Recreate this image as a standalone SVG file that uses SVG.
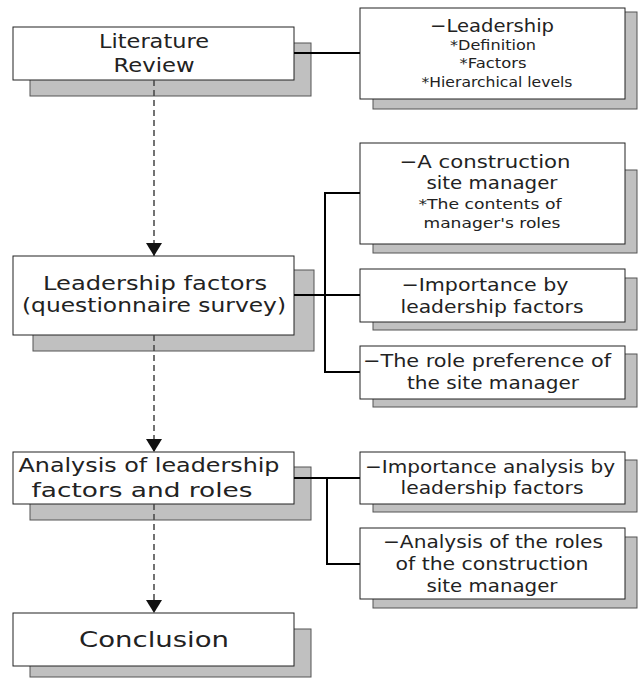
<svg xmlns="http://www.w3.org/2000/svg" width="638" height="679" viewBox="0 0 638 679">
<style>
.sh{fill:#c0c0c0;stroke:#555;stroke-width:1}
.bx{fill:#fff;stroke:#222;stroke-width:1}
text{font-family:"DejaVu Sans","Liberation Sans",sans-serif;fill:#222;text-anchor:middle}
.m{font-size:20px}
.r{font-size:18px}
.s{font-size:14px}
.c{stroke:#000;stroke-width:2;fill:none}
.d{stroke:#444;stroke-width:1.5;stroke-dasharray:6,4;fill:none}
</style>
<defs>
<marker id="ah" markerWidth="13" markerHeight="16" refX="13" refY="8" orient="auto" markerUnits="userSpaceOnUse" viewBox="0 0 13 16">
<path d="M0,0 L13,8 L0,16 Z" fill="#111"/>
</marker>
</defs>
<rect width="638" height="679" fill="#fff"/>
<g id="lit">
<rect class="sh" x="30" y="43" width="281" height="53"/>
<rect class="bx" x="13" y="27" width="281" height="53"/>
<text class="m" x="154" y="48" textLength="110" lengthAdjust="spacingAndGlyphs">Literature</text>
<text class="m" x="154" y="72" textLength="81" lengthAdjust="spacingAndGlyphs">Review</text>
</g>
<g id="lead">
<rect class="sh" x="373" y="12" width="264" height="97"/>
<rect class="bx" x="360" y="8" width="265" height="91"/>
<text class="r" x="492" y="32" textLength="124" lengthAdjust="spacingAndGlyphs">−Leadership</text>
<text class="s" x="493" y="50" textLength="86" lengthAdjust="spacingAndGlyphs">*Definition</text>
<text class="s" x="493" y="68" textLength="67" lengthAdjust="spacingAndGlyphs">*Factors</text>
<text class="s" x="497" y="87" textLength="151" lengthAdjust="spacingAndGlyphs">*Hierarchical levels</text>
</g>
<g id="factors">
<rect class="sh" x="33" y="270" width="281" height="81"/>
<rect class="bx" x="13" y="256" width="281" height="79"/>
<text class="m" x="155" y="290" textLength="224" lengthAdjust="spacingAndGlyphs">Leadership factors</text>
<text class="m" x="154" y="312" textLength="264" lengthAdjust="spacingAndGlyphs">(questionnaire survey)</text>
</g>
<g id="manager">
<rect class="sh" x="373" y="170" width="264" height="83"/>
<rect class="bx" x="360" y="143" width="265" height="101"/>
<text class="r" x="485" y="168" textLength="171" lengthAdjust="spacingAndGlyphs">−A construction</text>
<text class="r" x="492" y="189" textLength="131" lengthAdjust="spacingAndGlyphs">site manager</text>
<text class="s" x="490" y="209" textLength="143" lengthAdjust="spacingAndGlyphs">*The contents of</text>
<text class="s" x="492" y="228" textLength="137" lengthAdjust="spacingAndGlyphs">manager's roles</text>
</g>
<g id="importance">
<rect class="sh" x="373" y="278" width="264" height="52"/>
<rect class="bx" x="360" y="269" width="265" height="53"/>
<text class="r" x="485" y="291" textLength="167" lengthAdjust="spacingAndGlyphs">−Importance by</text>
<text class="r" x="492" y="313" textLength="183" lengthAdjust="spacingAndGlyphs">leadership factors</text>
</g>
<g id="preference">
<rect class="sh" x="373" y="354" width="264" height="53"/>
<rect class="bx" x="360" y="346" width="265" height="53"/>
<text class="r" x="487" y="367" textLength="248" lengthAdjust="spacingAndGlyphs">−The role preference of</text>
<text class="r" x="493" y="389" textLength="172" lengthAdjust="spacingAndGlyphs">the site manager</text>
</g>
<g id="analysis">
<rect class="sh" x="30" y="467" width="281" height="53"/>
<rect class="bx" x="13" y="452" width="281" height="52"/>
<text class="m" x="149" y="472" textLength="261" lengthAdjust="spacingAndGlyphs">Analysis of leadership</text>
<text class="m" x="142" y="497" textLength="221" lengthAdjust="spacingAndGlyphs">factors and roles</text>
</g>
<g id="impanalysis">
<rect class="sh" x="373" y="460" width="264" height="52"/>
<rect class="bx" x="360" y="452" width="265" height="52"/>
<text class="r" x="490" y="473" textLength="250" lengthAdjust="spacingAndGlyphs">−Importance analysis by</text>
<text class="r" x="492" y="494" textLength="183" lengthAdjust="spacingAndGlyphs">leadership factors</text>
</g>
<g id="roles">
<rect class="sh" x="373" y="537" width="264" height="71"/>
<rect class="bx" x="360" y="528" width="265" height="71"/>
<text class="r" x="493" y="548" textLength="220" lengthAdjust="spacingAndGlyphs">−Analysis of the roles</text>
<text class="r" x="492" y="570" textLength="193" lengthAdjust="spacingAndGlyphs">of the construction</text>
<text class="r" x="492" y="592" textLength="131" lengthAdjust="spacingAndGlyphs">site manager</text>
</g>
<g id="conclusion">
<rect class="sh" x="30" y="629" width="281" height="48"/>
<rect class="bx" x="13" y="613" width="281" height="53"/>
<text class="m" x="154" y="647" textLength="150" lengthAdjust="spacingAndGlyphs" style="font-size:21px">Conclusion</text>
</g>
<g id="connectors">
<line class="d" x1="154" y1="80" x2="154" y2="256" marker-end="url(#ah)"/>
<line class="d" x1="154" y1="335" x2="154" y2="452" marker-end="url(#ah)"/>
<line class="d" x1="154" y1="504" x2="154" y2="613" marker-end="url(#ah)"/>
<path class="c" d="M294,53 H360"/>
<path class="c" d="M294,295 H360"/>
<path class="c" d="M360,193 H325 V372 H360"/>
<path class="c" d="M294,478 H360"/>
<path class="c" d="M327,478 V564 H360"/>
</g>
</svg>
